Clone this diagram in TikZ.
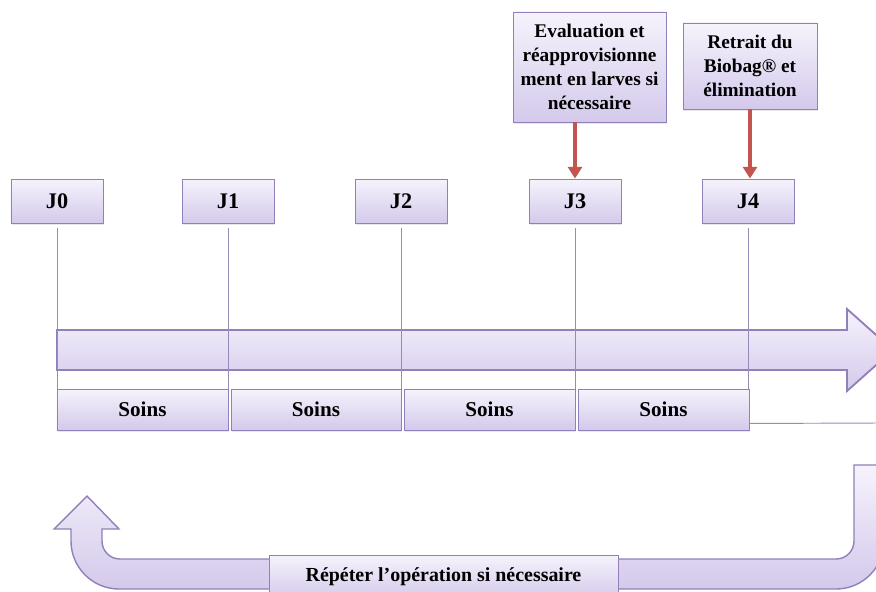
\documentclass[tikz,border=0pt]{standalone}
\usepackage{fontspec}
\setmainfont{Liberation Serif}
\usetikzlibrary{shapes,arrows.meta,positioning,shadows}
\definecolor{lavclair}{RGB}{246,243,252}
\definecolor{lavfonce}{RGB}{212,201,235}
\definecolor{violet}{RGB}{146,128,186}
\definecolor{trait}{RGB}{150,138,182}
\definecolor{rouge}{RGB}{196,84,78}
\tikzstyle{boite} = [draw=violet, line width=0.8pt, top color=lavclair, bottom color=lavfonce, rectangle, drop shadow={opacity=0.18, shadow xshift=1pt, shadow yshift=-1.5pt}, align=center, inner sep=2pt]
\tikzstyle{jour} = [boite, minimum width=2.76cm, minimum height=1.32cm, font=\bfseries\fontsize{19}{21}\selectfont]
\tikzstyle{soins} = [boite, minimum height=1.23cm, font=\bfseries\fontsize{18}{21}\selectfont]
\tikzstyle{etape} = [boite, font=\bfseries\fontsize{16.5}{20.5}\selectfont]
\tikzstyle{repere} = [draw=trait, line width=0.8pt]
\tikzstyle{fleche} = [draw=rouge, line width=2.6pt, -{Triangle[length=10pt,width=12pt]}]
\tikzstyle{bande} = [draw=violet, line width=1.6pt, top color=lavclair, bottom color=lavfonce]

\begin{document}
\begin{tikzpicture}[x=0.03cm, y=-0.03cm]
	\useasboundingbox (0,0) rectangle (876,591);
	\clip (0,0) rectangle (876,591);
	\draw[bande] (57,330) -- (847,330) -- (847,309) -- (893,350) -- (847,391) -- (847,370) -- (57,370) -- cycle;
	\node[jour] (j0) at (57,201) {J0};
	\node[jour] (j1) at (228,201) {J1};
	\node[jour] (j2) at (401,201) {J2};
	\node[jour] (j3) at (575,201) {J3};
	\node[jour] (j4) at (748,201) {J4};
	\node[soins, minimum width=5.13cm] (s1) at (142.5,409.5) {Soins};
	\node[soins, minimum width=5.1cm] (s2) at (316,409.5) {Soins};
	\node[soins, minimum width=5.13cm] (s3) at (489.5,409.5) {Soins};
	\node[soins, minimum width=5.13cm] (s4) at (663.5,409.5) {Soins};
	\node[etape, minimum width=4.59cm, minimum height=3.3cm] (eval) at (589.5,67) {Evaluation et\\réapprovisionne\\ment en larves si\\nécessaire};
	\node[etape, minimum width=4.02cm, minimum height=2.58cm] (retrait) at (750,66) {Retrait du\\Biobag® et\\élimination};
	\draw[fleche] (eval.south -| j3.north) -- (j3.north);
	\draw[fleche] (retrait.south) -- (retrait.south |- j4.north);
	\foreach \j/\s in {j0/s1, j1/s1, j2/s2, j3/s3, j4/s4}
		\draw[repere] ([yshift=-4pt]\j.south) -- (\j.south |- \s.north);
	\coordinate (bord) at (880,423);
	\draw[repere] ([yshift=0.21cm]s4.south east) -- (bord);
	\draw[bande, line width=1.2pt] (884,465) -- (884,541) .. controls (884,567.5) and (862.5,589) .. (836,589) -- (119,589) .. controls (92.5,589) and (71,567.5) .. (71,541) -- (71,529) -- (54,529) -- (87,496) -- (119,529) -- (102,529) -- (102,541) .. controls (102,551) and (110,559) .. (120,559) -- (836,559) .. controls (846,559) and (854,551) .. (854,541) -- (854,465) -- cycle;
	\node[boite, minimum width=10.47cm, minimum height=1.32cm, font=\bfseries\fontsize{17}{20}\selectfont] (repeter) at (443.5,577) {Répéter l’opération si nécessaire};
\end{tikzpicture}
\end{document}
